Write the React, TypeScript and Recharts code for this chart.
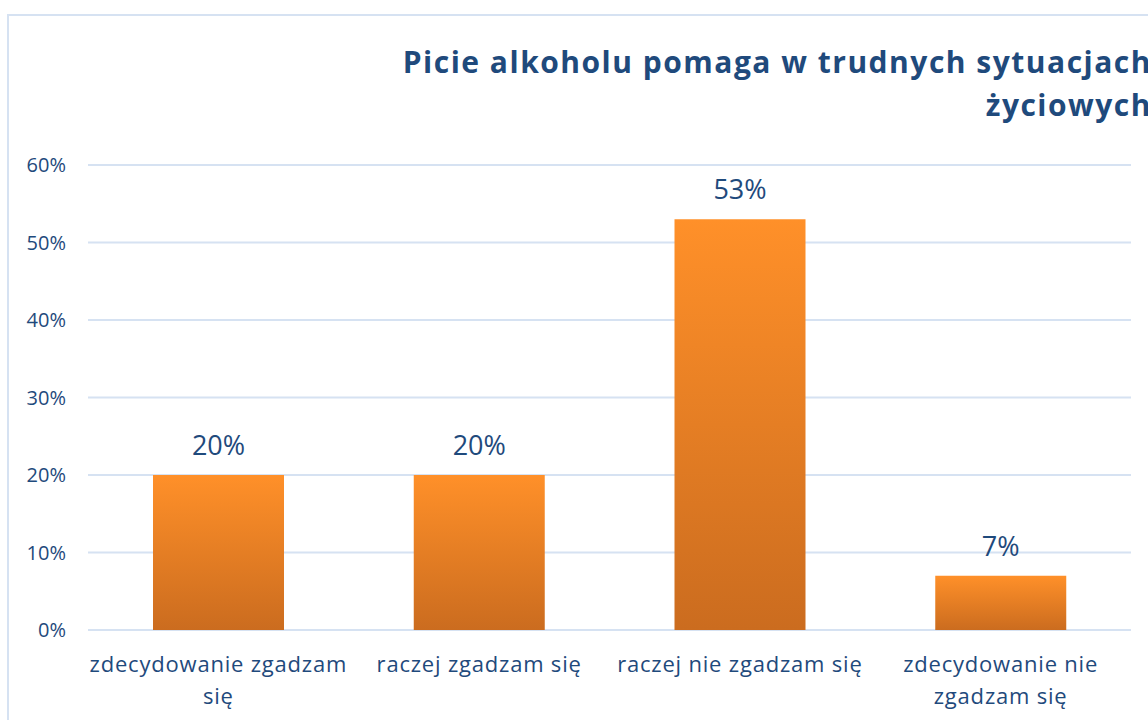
import { BarChart, Bar, XAxis, YAxis, CartesianGrid, LabelList } from 'recharts';

const categories = [
  'zdecydowanie zgadzam się',
  'raczej zgadzam się',
  'raczej nie zgadzam się',
  'zdecydowanie nie zgadzam się',
];
const shares = [0.2, 0.2, 0.53, 0.07];
const yTicks = [0, 0.1, 0.2, 0.3, 0.4, 0.5, 0.6];
const titleLines = ['Picie alkoholu pomaga w trudnych sytuacjach', 'życiowych'];

const data = categories.map((name, i) => ({ name, value: shares[i] }));

const textColor = '#1f4a7c';
const font = '"Open Sans", "Noto Sans", sans-serif';
const catSize = 22;
const catSpacing = 0.8;
const catMaxWidth = 262;

const pct = (v: number) => `${Math.round(v * 100)}%`;

let ctx: CanvasRenderingContext2D | null = null;
const measure = (s: string) => {
  if (!ctx) ctx = document.createElement('canvas').getContext('2d');
  if (!ctx) return s.length * catSize * 0.55;
  ctx.font = `${catSize}px "Open Sans"`;
  return ctx.measureText(s).width + s.length * catSpacing;
};

// zawijanie słów jak w Excelu
const wrap = (s: string) => {
  const lines: string[] = [];
  let cur = '';
  s.split(' ').forEach((w) => {
    const next = cur ? `${cur} ${w}` : w;
    if (cur && measure(next) > catMaxWidth) {
      lines.push(cur);
      cur = w;
    } else cur = next;
  });
  if (cur) lines.push(cur);
  return lines;
};

const CategoryTick = ({ x, y, payload }: any) => (
  <text
    x={x}
    y={y}
    textAnchor="middle"
    fill={textColor}
    style={{ fontSize: catSize, fontFamily: font, letterSpacing: catSpacing }}
  >
    {wrap(payload.value).map((l, i) => (
      <tspan key={i} x={x} dy={i === 0 ? 42 : 32}>
        {l}
      </tspan>
    ))}
  </text>
);

export default function App() {
  return (
    <div
      style={{
        position: 'absolute',
        left: 0,
        top: 0,
        width: 1148,
        height: 720,
        overflow: 'hidden',
        background: '#fff',
        fontFamily: font,
      }}
    >
      <div
        style={{
          position: 'absolute',
          left: 7,
          top: 14,
          width: 1300,
          height: 900,
          border: '2px solid #d6e2f2',
        }}
      />
      <div
        style={{
          position: 'absolute',
          right: -4,
          top: 40,
          textAlign: 'right',
          color: textColor,
          fontWeight: 700,
          fontSize: 30,
          letterSpacing: 1.5,
          lineHeight: '43px',
          whiteSpace: 'nowrap',
        }}
      >
        {titleLines.map((l) => (
          <div key={l}>{l}</div>
        ))}
      </div>
      <div style={{ position: 'absolute', left: 0, top: 0 }}>
        <BarChart
          width={1148}
          height={720}
          data={data}
          margin={{ top: 165, right: 17, left: 0, bottom: 0 }}
          barSize={131}
        >
          <defs>
            <linearGradient id="barFill" x1="0" y1="0" x2="0" y2="1">
              <stop offset="0%" stopColor="#ff9029" />
              <stop offset="100%" stopColor="#cb6c1f" />
            </linearGradient>
          </defs>
          <CartesianGrid vertical={false} stroke="#d6e2f2" strokeWidth={2} />
          <XAxis
            dataKey="name"
            height={90}
            axisLine={false}
            tickLine={false}
            tickSize={0}
            tickMargin={0}
            interval={0}
            tick={<CategoryTick />}
          />
          <YAxis
            width={88}
            domain={[0, 0.6]}
            ticks={yTicks}
            tickFormatter={pct}
            axisLine={false}
            tickLine={false}
            tickSize={0}
            tickMargin={22}
            tick={{ fill: textColor, fontSize: 20, fontFamily: font }}
          />
          <Bar dataKey="value" fill="url(#barFill)" isAnimationActive={false}>
            <LabelList
              dataKey="value"
              position="top"
              offset={20}
              formatter={pct}
              fill={textColor}
              style={{ fontSize: 27, fontFamily: font }}
            />
          </Bar>
        </BarChart>
      </div>
    </div>
  );
}
